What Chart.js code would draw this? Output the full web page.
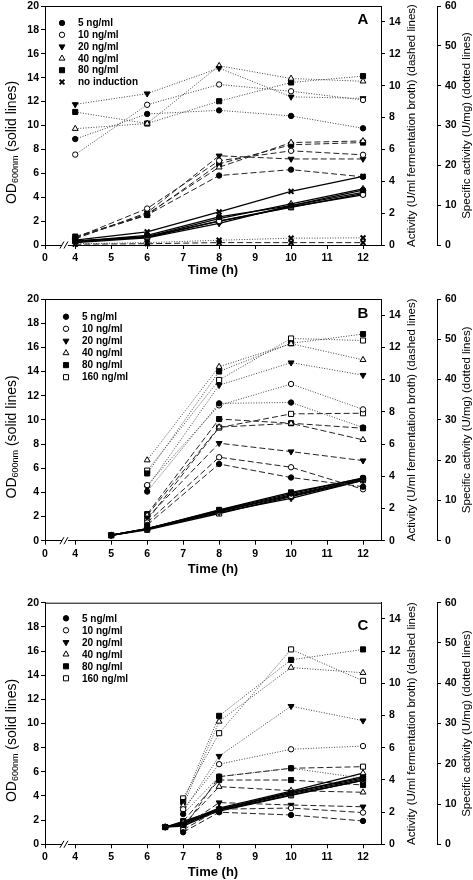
<!DOCTYPE html>
<html>
<head>
<meta charset="utf-8">
<script src="https://cdn.jsdelivr.net/npm/chart.js@4/dist/chart.umd.min.js"></script>
<style>
  body { margin: 0; background: #fff; }
  .panel { position: relative; width: 473px; }
</style>
</head>
<body>
<div class="panel" style="height:290px"><canvas id="chartA"></canvas></div>
<div class="panel" style="height:290px"><canvas id="chartB"></canvas></div>
<div class="panel" style="height:300px"><canvas id="chartC"></canvas></div>
<script>
// ---- data ----
const xTicks = [0, 4, 5, 6, 7, 8, 9, 10, 11, 12];

// Panel A
const timesA = [4, 6, 8, 10, 12];
const seriesA = ['5 ng/ml', '10 ng/ml', '20 ng/ml', '40 ng/ml', '80 ng/ml', 'no induction'];
const odA = [
  [0.3, 0.8, 2.35, 3.3, 4.6],
  [0.25, 0.7, 2.0, 3.2, 4.2],
  [0.2, 0.6, 1.8, 3.3, 4.4],
  [0.3, 0.7, 2.2, 3.45, 4.7],
  [0.35, 0.65, 2.0, 3.15, 4.3],
  [0.4, 1.1, 2.77, 4.48, 5.75]
];
const activityA = [
  [0.45, 1.88, 4.36, 4.73, 4.28],
  [0.45, 2.29, 5.29, 5.91, 5.66],
  [0.38, 2.03, 5.6, 5.4, 5.4],
  [0.45, 1.95, 4.88, 6.43, 6.53],
  [0.53, 1.88, 5.09, 6.29, 6.43],
  [0.05, 0.08, 0.15, 0.15, 0.15]
];
const specificA = [
  [26.6, 32.9, 33.8, 32.4, 29.3],
  [22.7, 35.2, 40.3, 38.6, 36.4],
  [35.3, 38.0, 44.4, 37.2, 36.8],
  [29.2, 30.5, 45.0, 41.8, 41.1],
  [33.4, 30.5, 36.1, 40.8, 42.4],
  [0.3, 0.6, 1.2, 1.7, 1.8]
];

// Panel B
const odTimesB = [5, 6, 8, 10, 12];
const assayTimesB = [6, 8, 10, 12];
const seriesB = ['5 ng/ml', '10 ng/ml', '20 ng/ml', '40 ng/ml', '80 ng/ml', '160 ng/ml'];
const odB = [
  [0.45, 1.0, 2.5, 3.9, 5.2],
  [0.45, 0.95, 2.4, 3.7, 5.1],
  [0.45, 0.95, 2.35, 3.5, 5.0],
  [0.45, 1.0, 2.45, 3.8, 5.1],
  [0.45, 1.0, 2.55, 4.0, 5.15],
  [0.45, 0.9, 2.25, 3.65, 5.0]
];
const activityB = [
  [0.98, 4.76, 3.92, 3.35],
  [1.13, 5.18, 4.56, 3.19],
  [1.43, 6.05, 5.53, 4.97],
  [1.58, 7.05, 7.28, 6.26],
  [1.65, 7.55, 7.29, 6.98],
  [1.28, 7.02, 7.87, 7.91]
];
const specificB = [
  [12.2, 34.1, 34.3, 28.1],
  [13.8, 33.6, 38.9, 32.6],
  [13.2, 38.6, 44.2, 41.1],
  [20.0, 43.2, 48.9, 44.9],
  [16.7, 42.0, 49.0, 51.3],
  [17.4, 39.9, 50.2, 49.7]
];

// Panel C
const odTimesC = [6.5, 7, 8, 10, 12];
const assayTimesC = [7, 8, 10, 12];
const seriesC = ['5 ng/ml', '10 ng/ml', '20 ng/ml', '40 ng/ml', '80 ng/ml', '160 ng/ml'];
const odC = [
  [1.43, 1.6, 2.9, 4.2, 5.4],
  [1.43, 1.5, 2.8, 4.1, 5.3],
  [1.43, 1.7, 2.9, 4.3, 5.5],
  [1.43, 1.8, 3.0, 4.4, 5.9],
  [1.43, 1.9, 2.9, 4.3, 5.6],
  [1.43, 1.8, 2.75, 4.05, 5.3]
];
const activityC = [
  [0.75, 1.99, 1.82, 1.45],
  [0.9, 2.18, 2.25, 1.97],
  [1.05, 2.59, 2.44, 2.33],
  [1.2, 3.58, 3.33, 3.23],
  [1.43, 3.99, 3.99, 3.68],
  [0.98, 4.2, 4.72, 4.82]
];
const specificC = [
  [7.5, 16.8, 18.9, 16.4],
  [8.7, 19.9, 23.6, 24.4],
  [8.1, 21.9, 34.3, 30.7],
  [9.6, 30.5, 43.9, 42.6],
  [10.5, 31.9, 45.8, 48.4],
  [11.4, 27.6, 48.4, 40.6]
];

// ---- broken time axis: 0 sits just left of 4 ----
const BREAK_AT = 3.16;
function axisPos(t) { return t >= 4 ? t : BREAK_AT + t * (4 - BREAK_AT) / 4; }
function axisTime(p) { return p >= 4 ? p : (p - BREAK_AT) * 4 / (4 - BREAK_AT); }

const markers = {
  '5 ng/ml':      { style: 'circle',   fill: '#000', r: 2.7, rot: 0 },
  '10 ng/ml':     { style: 'circle',   fill: '#fff', r: 2.7, rot: 0 },
  '20 ng/ml':     { style: 'triangle', fill: '#000', r: 3.4, rot: 180 },
  '40 ng/ml':     { style: 'triangle', fill: '#fff', r: 3.4, rot: 0 },
  '80 ng/ml':     { style: 'rect',     fill: '#000', r: 3.6, rot: 0 },
  '160 ng/ml':    { style: 'rect',     fill: '#fff', r: 3.6, rot: 0 },
  'no induction': { style: 'crossRot', fill: '#000', r: 3.4, rot: 0 }
};

const lineKinds = {
  solid:  { axis: 'y',  color: '#000', width: 1.3, dash: [] },
  dashed: { axis: 'y1', color: '#222', width: 1,   dash: [6, 3] },
  dotted: { axis: 'y2', color: '#444', width: 1,   dash: [1, 1.6] }
};

function makeSet(name, times, values, kind) {
  const m = markers[name];
  const k = lineKinds[kind];
  return {
    label: name + ' ' + kind,
    data: times.map((t, i) => ({ x: axisPos(t), y: values[i] })),
    yAxisID: k.axis,
    borderColor: k.color,
    borderWidth: k.width,
    borderDash: k.dash,
    pointStyle: m.style,
    pointRotation: m.rot,
    pointRadius: m.r,
    pointBackgroundColor: m.fill,
    pointBorderColor: '#000',
    pointBorderWidth: m.style === 'crossRot' ? 2 : 1,
    fill: false,
    tension: 0,
    clip: 8
  };
}

// draws frame top, axis break, axis titles, legend and panel letter
const panelDecor = {
  id: 'panelDecor',
  afterDraw(chart, args, opts) {
    const ctx = chart.ctx;
    const a = chart.chartArea;
    const xs = chart.scales.x;
    ctx.save();
    ctx.strokeStyle = '#000';
    ctx.lineWidth = 1;
    ctx.beginPath();
    ctx.moveTo(a.left, a.top + 0.5);
    ctx.lineTo(a.right, a.top + 0.5);
    ctx.stroke();

    // axis break "//"
    const p0 = xs.getPixelForValue(axisPos(0));
    const p4 = xs.getPixelForValue(axisPos(4));
    const bx = p0 + (p4 - p0) * 0.66;
    const by = a.bottom;
    ctx.fillStyle = '#fff';
    ctx.fillRect(bx - 3, by - 2, 6, 4);
    ctx.beginPath();
    ctx.moveTo(bx - 5, by + 3.5); ctx.lineTo(bx - 1, by - 3.5);
    ctx.moveTo(bx - 1, by + 3.5); ctx.lineTo(bx + 3, by - 3.5);
    ctx.stroke();

    // y axis titles (all read bottom to top)
    const cy = (a.top + a.bottom) / 2;
    ctx.fillStyle = '#000';
    ctx.textBaseline = 'middle';
    // OD600nm (solid lines)
    ctx.save();
    ctx.translate(12, cy + 17);
    ctx.rotate(-Math.PI / 2);
    const big = '14px "Liberation Sans", Arial, sans-serif';
    const small = '9px "Liberation Sans", Arial, sans-serif';
    ctx.font = big; const w1 = ctx.measureText('OD').width;
    ctx.font = small; const w2 = ctx.measureText('600nm').width;
    ctx.font = big; const w3 = ctx.measureText(' (solid lines)').width;
    let tx = -(w1 + w2 + w3) / 2;
    ctx.textAlign = 'left';
    ctx.font = big; ctx.fillText('OD', tx, 0); tx += w1;
    ctx.font = small; ctx.fillText('600nm', tx, 4); tx += w2;
    ctx.font = big; ctx.fillText(' (solid lines)', tx, 0);
    ctx.restore();

    const sideTitle = (text, x) => {
      ctx.save();
      ctx.translate(x, cy);
      ctx.rotate(-Math.PI / 2);
      ctx.textAlign = 'center';
      ctx.font = '11.5px "Liberation Sans", Arial, sans-serif';
      ctx.fillText(text, 0, 0);
      ctx.restore();
    };
    sideTitle('Activity (U/ml fermentation broth) (dashed lines)', chart.scales.y1.left + 31);
    sideTitle('Specific activity (U/mg) (dotted lines)', chart.scales.y2.left + 30);

    // legend
    ctx.textAlign = 'left';
    ctx.font = 'bold 10px "Liberation Sans", Arial, sans-serif';
    opts.names.forEach((name, i) => {
      const m = markers[name];
      const y = opts.legendY + i * opts.legendGap;
      ctx.fillStyle = m.fill;
      ctx.strokeStyle = '#000';
      ctx.lineWidth = m.style === 'crossRot' ? 2 : 1;
      Chart.helpers.drawPoint(ctx, { pointStyle: m.style, rotation: m.rot, radius: m.r, borderWidth: ctx.lineWidth }, opts.legendX, y);
      ctx.fillStyle = '#000';
      ctx.fillText(name, opts.legendX + 16, y + 0.5);
    });

    // panel letter
    ctx.font = 'bold 15px "Liberation Sans", Arial, sans-serif';
    ctx.textAlign = 'center';
    ctx.fillText(opts.letter, a.right - 18, opts.letterY);
    ctx.restore();
  }
};

const tickFont = { family: '"Liberation Sans", Arial, sans-serif', size: 10.5, weight: 'bold' };

function axisBase(extra) {
  return Object.assign({
    grid: { drawOnChartArea: false, drawTicks: true, tickLength: 4, color: '#000' },
    border: { display: true, color: '#000', width: 1 },
  }, extra);
}

function makePanel(p) {
  const datasets = [];
  p.names.forEach((name, i) => {
    datasets.push(makeSet(name, p.spT, p.sp[i], 'dotted'));
    datasets.push(makeSet(name, p.actT, p.act[i], 'dashed'));
    datasets.push(makeSet(name, p.odT, p.od[i], 'solid'));
  });

  new Chart(document.getElementById(p.id), {
    type: 'line',
    data: { datasets },
    options: {
      responsive: true,
      maintainAspectRatio: false,
      animation: false,
      events: [],
      layout: { padding: { top: p.top, left: 0, right: 0, bottom: 0 } },
      plugins: {
        legend: { display: false },
        tooltip: { enabled: false },
        panelDecor: { names: p.names, legendX: p.legendX, legendY: p.legendY, legendGap: p.legendGap, letter: p.letter, letterY: p.letterY }
      },
      scales: {
        x: axisBase({
          type: 'linear',
          min: BREAK_AT,
          max: 12.5,
          afterBuildTicks: s => { s.ticks = xTicks.map(t => ({ value: axisPos(t) })); },
          ticks: { callback: v => String(Math.round(axisTime(v))), autoSkip: false, maxRotation: 0, font: tickFont, color: '#000', padding: 3 },
          title: { display: true, text: 'Time (h)', color: '#000', font: { family: '"Liberation Sans", Arial, sans-serif', size: 13, weight: 'bold' }, padding: { top: 0, bottom: p.titlePad } },
          afterFit: s => { s.height = p.xHeight; s.paddingLeft = 0; s.paddingRight = 0; }
        }),
        y: axisBase({
          position: 'left', min: 0, max: 20,
          ticks: { stepSize: 2, font: tickFont, color: '#000', padding: 2 },
          afterFit: s => { s.width = 45; s.paddingTop = 0; s.paddingBottom = 0; }
        }),
        y1: axisBase({
          position: 'right', min: 0, max: 15,
          ticks: { stepSize: 2, includeBounds: false, font: tickFont, color: '#000', padding: 4 },
          afterFit: s => { s.width = 56; s.paddingTop = 0; s.paddingBottom = 0; }
        }),
        y2: axisBase({
          position: 'right', min: 0, max: 60,
          ticks: { stepSize: 10, font: tickFont, color: '#000', padding: 4 },
          afterFit: s => { s.width = 36; s.paddingTop = 0; s.paddingBottom = 0; }
        })
      }
    },
    plugins: [panelDecor]
  });
}

makePanel({ id: 'chartA', letter: 'A', top: 4, xHeight: 45, titlePad: 12, legendX: 62, legendY: 23, legendGap: 11.8, letterY: 20,
  names: seriesA, odT: timesA, od: odA, actT: timesA, act: activityA, spT: timesA, sp: specificA });
makePanel({ id: 'chartB', letter: 'B', top: 9, xHeight: 39.3, titlePad: 3, legendX: 66, legendY: 26.7, legendGap: 12.1, letterY: 24,
  names: seriesB, odT: odTimesB, od: odB, actT: assayTimesB, act: activityB, spT: assayTimesB, sp: specificB });
makePanel({ id: 'chartC', letter: 'C', top: 22.7, xHeight: 35.7, titlePad: 0, legendX: 66, legendY: 38.3, legendGap: 12, letterY: 46,
  names: seriesC, odT: odTimesC, od: odC, actT: assayTimesC, act: activityC, spT: assayTimesC, sp: specificC });
</script>
</body>
</html>
